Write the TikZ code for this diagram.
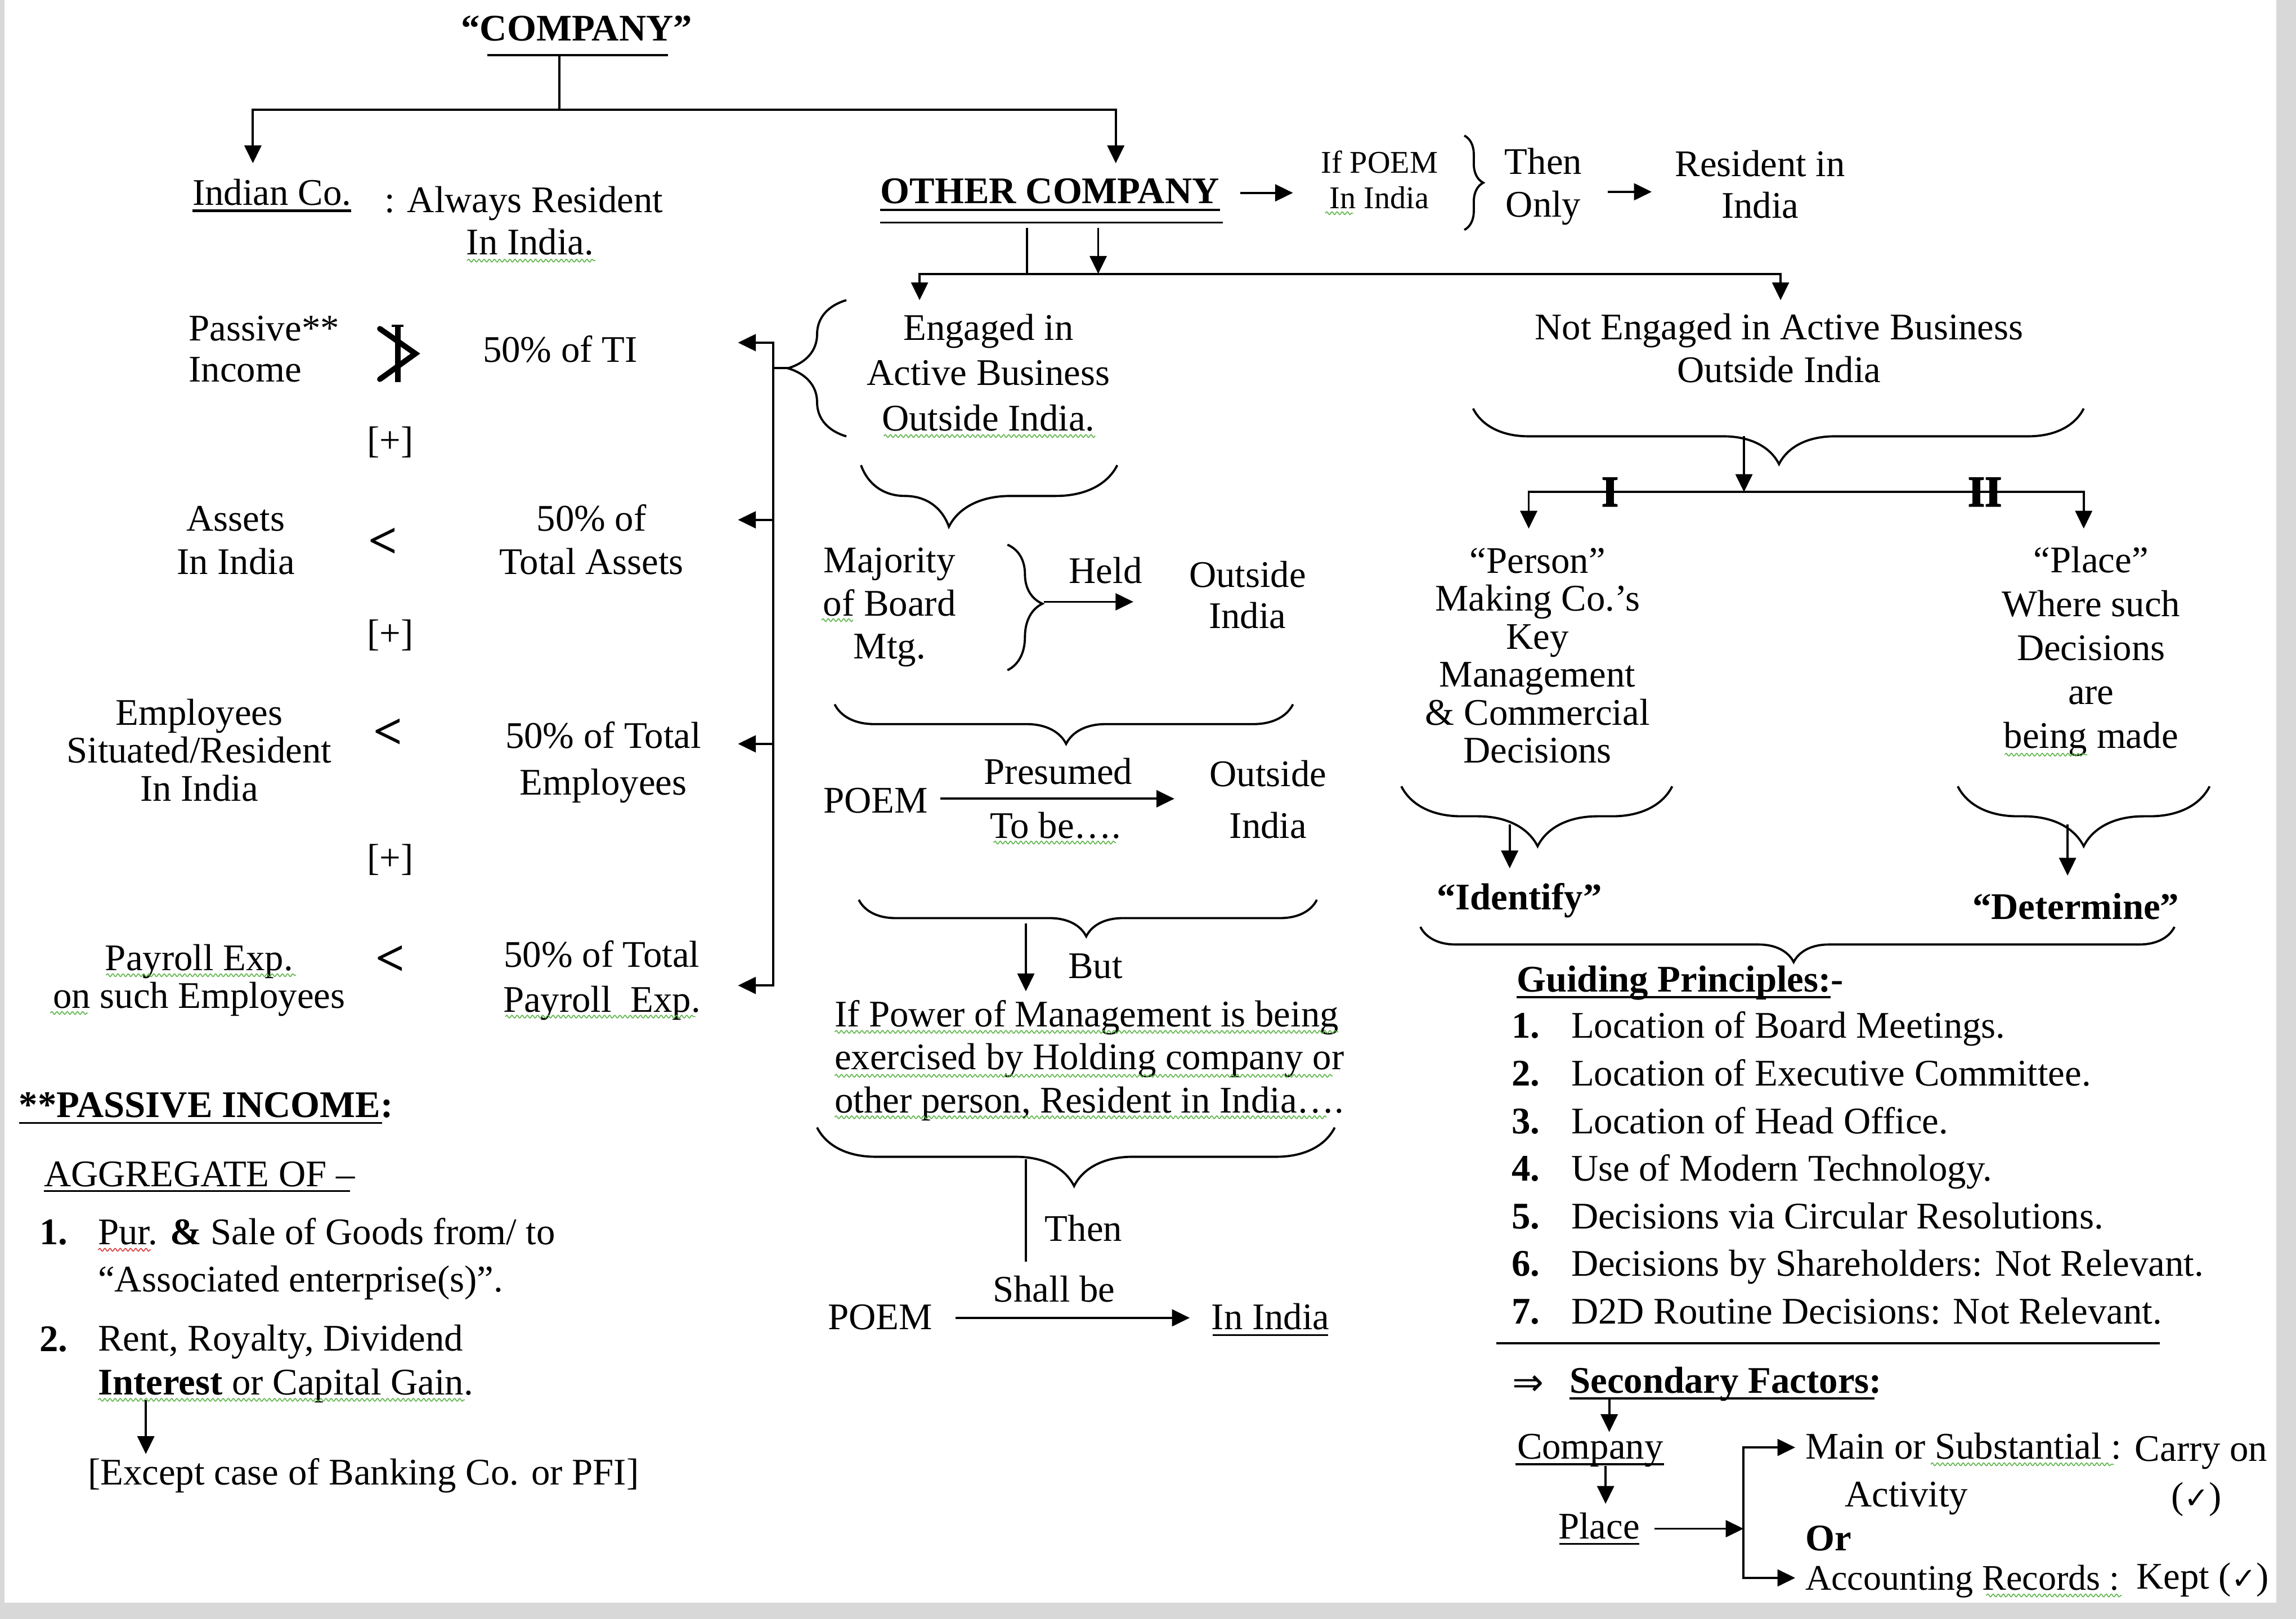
\documentclass[tikz,border=0pt]{standalone}
\usepackage{fontspec}
\setmainfont{Liberation Serif}
\newfontfamily\symf{DejaVu Sans}
\newfontfamily\heavyI[FakeBold=2.5]{Liberation Serif}
\usetikzlibrary{arrows.meta,decorations.pathreplacing,decorations.pathmorphing}
\definecolor{gb}{RGB}{216,216,216}
\definecolor{sqg}{RGB}{90,180,70}
\definecolor{sqr}{RGB}{220,50,50}
\newcommand\mychk{{\symf\fontsize{15}{15}\selectfont ✓}}
\tikzset{
 fs/.style={font=\fontsize{19}{#1}\selectfont}, fs/.default=22pt,
 tx/.style={fs=#1, align=center, anchor=base}, tx/.default=22pt,
 txl/.style={fs=#1, align=left, anchor=base west}, txl/.default=22pt,
 bx/.style={font=\fontsize{19}{22pt}\selectfont\bfseries, anchor=base},
 bxl/.style={bx, anchor=base west},
 lt/.style={font=\fontsize{26}{26pt}\selectfont\bfseries},
 rom/.style={font=\fontsize{22}{22pt}\heavyI\bfseries},
 ln/.style={line width=1.1pt},
 arr/.style={ln, -{Triangle[length=9pt,width=8.5pt]}},
 dbl/.style={ln, {Triangle[length=9pt,width=8.5pt]}-{Triangle[length=9pt,width=8.5pt]}},
 br/.style 2 args={ln, decorate, decoration={brace, amplitude=#1, aspect=#2}},
 sq/.style={draw=sqg, line width=0.45pt, decorate, decoration={snake, segment length=2.6pt, amplitude=0.7pt}},
 sqred/.style={sq, draw=sqr},
 ul/.style={line width=0.9pt},
}
\begin{document}
\begin{tikzpicture}[x=0.2602mm,y=-0.2602mm,every node/.style={inner sep=0pt,outer sep=0pt}]
\useasboundingbox (0,0) rectangle (1568,1105.67);
\fill[white] (0,0) rectangle (1568,1105.67);
\fill[gb] (1554.6,0) rectangle (1568,1105.67);
\fill[gb] (0,1094.6) rectangle (1568,1105.67);
\fill[gb] (0,0) rectangle (3,1094.6);

% ---------- header
\node[bx] (comp) at (393.8,28) {“COMPANY”};
\coordinate (compUL) at (333,37.5);
\coordinate (compUR) at (456,37.5);
\coordinate (compJ) at (382,37.5);
\coordinate (splitJ) at (382,75);
\coordinate (splitL) at (172.7,75);
\coordinate (splitR) at (762,75);
\coordinate (indIn) at (172.7,111.5);
\coordinate (othIn) at (762,111.5);
\draw[ln] (compUL)--(compUR);
\draw[ln] (compJ)--(splitJ);
\draw[dbl] (indIn)--(splitL)--(splitR)--(othIn);

% ---------- Indian company
\node[tx] (ind) at (185.7,140) {Indian Co.};
\draw[line width=1.4pt] (131.5,143.8)--(240,143.8);
\node[txl] (alw) at (262.5,145) {: Always Resident};
\node[tx] (alw2) at (362,174) {In India.};
\draw[sq] (319,178)--(406.6,178);

% ---------- Other company row
\node[bx] (oth) at (717,139) {OTHER COMPANY};
\draw[ln] (601,143.5)--(833,143.5);
\draw[ln] (601,152)--(835,152);
\coordinate (othR) at (847,131.7);
\coordinate (ifpL) at (883,131.7);
\draw[arr] (othR)--(ifpL);
\node[tx=18pt, font=\fontsize{16}{18pt}\selectfont] (ifp) at (942,142.5) {If POEM\\In India};
\draw[sq] (905,145.6)--(924,145.6);
\draw[br={9.6pt}{0.5}] (1000,92.6)--(1000,157);
\node[tx=21.4pt] (thn) at (1054,148) {Then\\Only};
\coordinate (thnR) at (1098,131);
\coordinate (resL) at (1128,131);
\draw[arr] (thnR)--(resL);
\node[tx=21.1pt] (res) at (1202,149) {Resident in\\India};

% ---------- branches under other company
\coordinate (ocL) at (701.5,155.5);
\coordinate (ocLb) at (701.5,187);
\coordinate (ocR) at (750,155.5);
\coordinate (ocRb) at (750,187);
\coordinate (brL) at (628,187);
\coordinate (brR) at (1216,187);
\coordinate (engT) at (628,205);
\coordinate (nengT) at (1216,205);
\draw[ln] (ocL)--(ocLb);
\draw[arr] (ocR)--(ocRb);
\draw[dbl] (engT)--(brL)--(brR)--(nengT);

% ---------- Engaged
\node[tx=22.9pt] (eng) at (675,294) {Engaged in\\Active Business\\Outside India.};
\draw[sq] (603.5,297.8)--(748,297.8);
\draw[br={29.6pt}{0.5}] (578,298)--(578,205);
\coordinate (engTip) at (538,251.5);
\coordinate (busJ) at (528,251.5);
\draw[ln] (engTip)--(busJ);
\coordinate (bus1) at (528,234);
\coordinate (bus2) at (528,355);
\coordinate (bus3) at (528,508);
\coordinate (bus4) at (528,673);
\coordinate (tiA) at (504,234);
\coordinate (tasA) at (504,355);
\coordinate (temA) at (504,508);
\coordinate (tpeA) at (504,673);
\draw[dbl] (tiA)--(bus1)--(bus4)--(tpeA);
\draw[arr] (bus2)--(tasA);
\draw[arr] (bus3)--(temA);

% ---------- left column
\node[txl=20.7pt] (pas) at (129,260.7) {Passive**\\Income};
\draw[line width=2.8pt, line join=miter, line cap=round] (259.4,224.5)--(283.7,241.5)--(259.4,259);
\draw[line width=2.8pt] (271.6,222)--(271.6,261);
\draw[line width=1.2pt] (267.5,222.6)--(275.7,222.6);
\node[tx] (ti) at (382.5,247.4) {50\% of TI};
\node[tx] (pl1) at (266.6,309) {[+]};
\node[tx=21.8pt] (ast) at (161,392) {Assets\\In India};
\node[lt] (lt1) at (261.5,371) {<};
\node[tx=21.8pt] (tas) at (404,392) {50\% of\\Total Assets};
\node[tx] (pl2) at (266.6,441) {[+]};
\node[tx=19.2pt] (emp) at (136,547) {Employees\\Situated/Resident\\In India};
\node[lt] (lt2) at (265,501) {<};
\node[tx=23.7pt] (tem) at (412,543) {50\% of Total\\Employees};
\node[tx] (pl3) at (266.6,594.5) {[+]};
\node[tx=19.2pt] (pay) at (136,688.5) {Payroll Exp.\\on such Employees};
\draw[sq] (72.4,666)--(202,666);
\draw[sq] (34.3,691.8)--(60,691.8);
\node[lt] (lt3) at (266.6,656) {<};
\node[tx=22.6pt] (tpe) at (411,691) {50\% of Total\\Payroll\ \ Exp.};
\draw[sq] (345,694.3)--(475,694.3);

% ---------- passive income block
\node[bxl] (pin) at (13,763) {**PASSIVE INCOME:};
\draw[ul] (13,767)--(261,767);
\node[txl] (agg) at (30,810.5) {AGGREGATE OF –};
\draw[ul] (30,813.5)--(239,813.5);
\node[bxl] (n1) at (27,850) {1.};
\node[txl=23.7pt] (it1) at (67,882) {Pur. \textbf{\&} Sale of Goods from/ to\\“Associated enterprise(s)”.};
\draw[sqred] (67,853.5)--(103,853.5);
\node[bxl] (n2) at (27,923) {2.};
\node[txl=22.2pt] (it2) at (67,952.5) {Rent, Royalty, Dividend\\\textbf{Interest} or Capital Gain.};
\draw[sq] (67,956)--(317.5,956);
\coordinate (intA) at (99.6,956);
\coordinate (excT) at (99.6,993);
\draw[arr] (intA)--(excT);
\node[txl] (exc) at (60,1014) {[Except case of Banking Co. or PFI]};

% ---------- middle column
\draw[br={31.1pt}{0.657}] (763,317.7)--(588,317.7);
\node[tx=21.8pt] (maj) at (607.5,450) {Majority\\of Board\\Mtg.};
\draw[sq] (561,423.5)--(582.6,423.5);
\draw[br={17.7pt}{0.47}] (688,372)--(688,457.7);
\coordinate (heldL) at (713,411);
\coordinate (heldR) at (774,411);
\draw[arr] (heldL)--(heldR);
\node[tx] (held) at (755,398.5) {Held};
\node[tx=20.7pt] (out1) at (852,429) {Outside\\India};
\draw[br={20pt}{0.495}] (883,481)--(570,481);
\node[tx] (poem1) at (598,555) {POEM};
\coordinate (p1L) at (642,545.5);
\coordinate (p1R) at (802,545.5);
\draw[arr] (p1L)--(p1R);
\node[tx] (pres) at (722.7,535.7) {Presumed};
\node[tx] (tobe) at (721,572.6) {To be….};
\draw[sq] (678.5,575.4)--(762,575.4);
\node[tx=26.3pt] (out2) at (866,572.6) {Outside\\India};
\draw[br={18.5pt}{0.5035}] (899.3,614.5)--(586.5,614.5);
\coordinate (butS) at (700.6,630.7);
\coordinate (butE) at (700.6,677);
\draw[arr] (butS)--(butE);
\node[tx] (but) at (748,668) {But};
\node[txl=21.8pt] (ifpow) at (570,760) {If Power of Management is being\\exercised by Holding company or\\other person, Resident in India….};
\draw[sq] (570,704.7)--(914,704.7);
\draw[sq] (570,734.7)--(910,734.7);
\draw[sq] (570,763)--(906,763);
\draw[br={29.6pt}{0.5035}] (911.5,770)--(558,770);
\coordinate (thnS) at (700.6,791.7);
\coordinate (thnE) at (700.6,861.6);
\draw[ln] (thnS)--(thnE);
\node[tx] (then2) at (740,847.5) {Then};
\node[tx] (poem2) at (601,908) {POEM};
\coordinate (p2L) at (652.6,900);
\coordinate (p2R) at (812.5,900);
\draw[arr] (p2L)--(p2R);
\node[tx] (shall) at (719.8,889) {Shall be};
\node[tx] (inind) at (867.6,908) {In India};
\draw[ul] (828,911.7)--(907,911.7);

% ---------- right column
\node[tx=21.4pt] (neng) at (1215,261) {Not Engaged in Active Business\\Outside India};
\draw[br={28.1pt}{0.499}] (1423,279)--(1006,279);
\coordinate (nbS) at (1191,298);
\coordinate (nbE) at (1191,336);
\draw[arr] (nbS)--(nbE);
\coordinate (perT) at (1044,361);
\coordinate (plcT) at (1423,361);
\coordinate (rL) at (1044,336);
\coordinate (rR) at (1423,336);
\draw[dbl] (perT)--(rL)--(rR)--(plcT);
\node[rom] (rI) at (1099.5,336) {I};
\node[rom] (rII) at (1355.5,336) {II};
\node[tx=19.2pt] (per) at (1050,521) {“Person”\\Making Co.’s\\Key\\Management\\\& Commercial\\Decisions};
\node[tx=22.2pt] (plc) at (1428,511) {“Place”\\Where such\\Decisions\\are\\being made};
\draw[sq] (1369,515.4)--(1425.5,515.4);
\draw[br={30.3pt}{0.497}] (1142,537)--(957,537);
\coordinate (idS) at (1031,563);
\coordinate (idE) at (1031,593);
\draw[arr] (idS)--(idE);
\node[bx] (idf) at (1037.6,621.4) {“Identify”};
\draw[br={30.3pt}{0.5}] (1509,537)--(1337,537);
\coordinate (dtS) at (1412,563);
\coordinate (dtE) at (1412,598);
\draw[arr] (dtS)--(dtE);
\node[bx] (det) at (1417.6,627.6) {“Determine”};
\draw[br={17.8pt}{0.505}] (1485,633)--(970,633);
\node[bxl] (gp) at (1035.8,677.5) {Guiding Principles:-};
\draw[ul] (1035.8,681)--(1250,681);
\foreach \i/\t in {1/Location of Board Meetings., 2/Location of Executive Committee., 3/Location of Head Office., 4/Use of Modern Technology., 5/Decisions via Circular Resolutions., 6/Decisions by Shareholders: Not Relevant., 7/D2D Routine Decisions: Not Relevant.}{
  \pgfmathsetmacro\yy{709+(\i-1)*32.5}
  \node[bxl] (gn\i) at (1032.4,\yy) {\i.};
  \node[txl] (gt\i) at (1073,\yy) {\t};
}
\draw[ln] (1021.7,917.2)--(1475,917.2);
\node[font=\symf\fontsize{19}{22pt}\selectfont] (imp) at (1043.5,946) {⇒};
\node[bxl] (sf) at (1072,951.5) {Secondary Factors:};
\draw[ul] (1072,955)--(1280,955);
\coordinate (sfA) at (1099,955);
\coordinate (cmpT) at (1099,978);
\draw[arr] (sfA)--(cmpT);
\node[tx] (cmp) at (1086,996.5) {Company};
\draw[ul] (1035,1000)--(1136.5,1000);
\coordinate (cmpA) at (1096.5,1001);
\coordinate (plT) at (1096.5,1027);
\draw[arr] (cmpA)--(plT);
\node[tx] (plce) at (1092,1051) {Place};
\draw[ul] (1065,1054.4)--(1119.6,1054.4);
\coordinate (plA) at (1130,1044);
\coordinate (busS) at (1190.7,1044);
\draw[arr] (plA)--(busS);
\coordinate (msA) at (1226,988.5);
\coordinate (arA) at (1226,1077.6);
\coordinate (sbT) at (1190.7,988.5);
\coordinate (sbB) at (1190.7,1077.6);
\draw[dbl] (msA)--(sbT)--(sbB)--(arA);
\node[txl] (ms) at (1233,996.5) {Main or Substantial :};
\draw[sq] (1318.5,1000)--(1443.6,1000);
\node[txl] (co) at (1458,998) {Carry on};
\node[tx] (act) at (1302,1029) {Activity};
\node[tx] (chk1) at (1500,1030) {(\mychk)};
\node[bxl] (orr) at (1233,1058.8) {Or};
\node[txl, font=\fontsize{18.2}{22pt}\selectfont] (ar) at (1233,1086) {Accounting Records :};
\draw[sq] (1356.5,1089.6)--(1449,1089.6);
\node[txl] (kept) at (1459,1085) {Kept (\mychk)};
\end{tikzpicture}
\end{document}
